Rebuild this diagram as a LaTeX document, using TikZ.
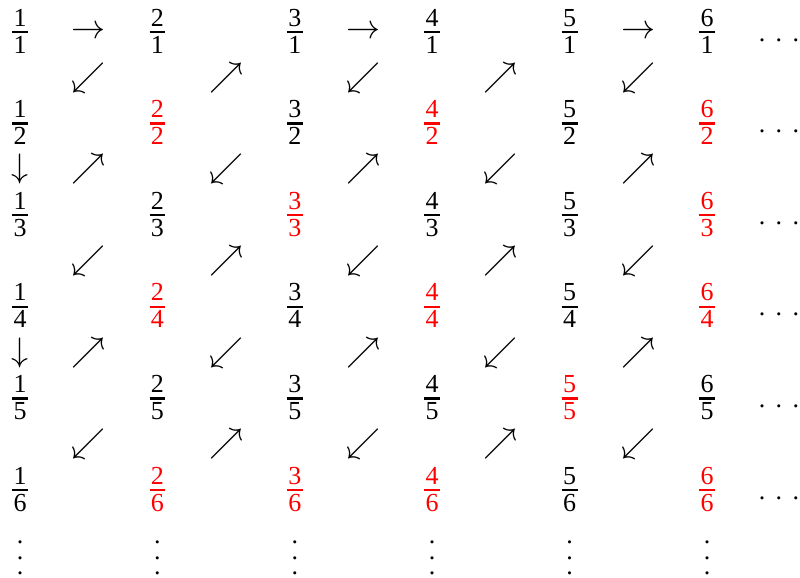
\RequirePackage{fix-cm}
\documentclass[tikz,border=0pt]{standalone}
\usepackage{amsmath}
\usepackage{fontspec}
\setmainfont{Liberation Serif}
\newcommand\myfr[2]{$\genfrac{}{}{1.3pt}{1}{\raisebox{1pt}{\kern0.7pt#1\kern0.7pt}}{\mbox{#2}}$}
\newcommand\myvdots{\vbox{\baselineskip=7.75pt\lineskiplimit=-20pt\hbox{.}\hbox{.}\hbox{.}}}
\newcommand\myhdots{.\hspace{5.2pt}.\hspace{5.2pt}.}
\tikzset{
  fracnode/.style={inner sep=0pt, anchor=base, font=\fontsize{13}{16}\selectfont},
  arrglyph/.style={inner sep=0pt, anchor=center, font=\fontsize{17}{20}\selectfont},
  dotsnode/.style={inner sep=0pt, font=\fontsize{13}{16}\selectfont}
}
\begin{document}
\begin{tikzpicture}[x=0.5pt,y=-0.5pt]
\useasboundingbox (0,0) rectangle (800,578);
% fractions
\foreach \r in {1,...,6}{
  \foreach \c in {1,...,6}{
    \pgfmathtruncatemacro\g{gcd(\c,\r)}
    \ifnum\g>1 \def\fc{red}\else\def\fc{black}\fi
    \node[fracnode, text=\fc] (f-\r-\c) at ({20+137.4*(\c-1)}, {32+91.6*(\r-1)+6.5}) {\myfr{\c}{\r}};
  }
  \node[dotsnode, anchor=base] (h-\r) at (779, {32+91.6*(\r-1)+9}) {\myhdots};
}
% vertical dots
\foreach \c in {1,...,6}{
  \node[dotsnode, anchor=center] (v-\c) at ({20+137.4*(\c-1)}, 558) {\myvdots};
}
% right arrows in row 1
\foreach \c in {1,3,5}{
  \node[arrglyph] (r-\c) at ({88.7+137.4*(\c-1)}, 32) {$\rightarrow$};
}
% down arrows
\foreach \k in {2,4}{
  \node[arrglyph] (d-\k) at (20, {77.8+91.6*(\k-1)}) {$\downarrow$};
}
% diagonal arrows
\foreach \k in {1,...,5}{
  \foreach \c in {1,...,5}{
    \pgfmathtruncatemacro\pty{mod(\k+\c,2)}
    \ifnum\pty=0
      \node[arrglyph] (g-\k-\c) at ({88.7+137.4*(\c-1)}, {77.8+91.6*(\k-1)}) {$\swarrow$};
    \else
      \node[arrglyph] (g-\k-\c) at ({88.7+137.4*(\c-1)}, {77.8+91.6*(\k-1)}) {$\nearrow$};
    \fi
  }
}
\end{tikzpicture}
\end{document}
